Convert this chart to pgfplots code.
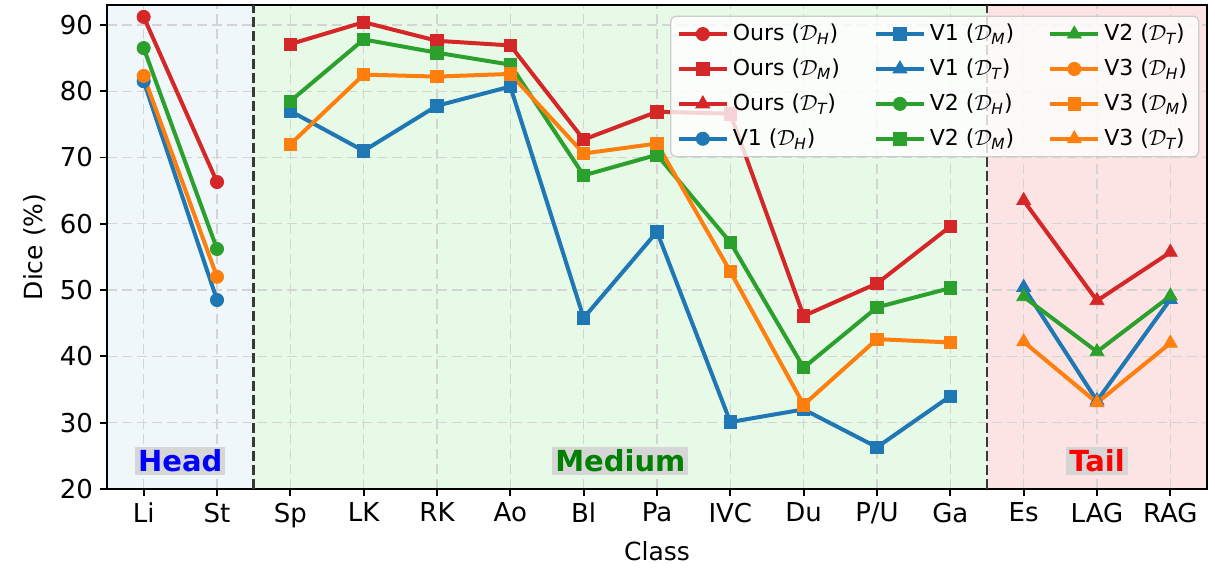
\documentclass[border=0pt]{standalone}
\usepackage{fontspec}
\setmainfont{DejaVu Sans}
\usepackage{amsmath}
\usepackage{pgfplots}
\pgfplotsset{compat=1.18}
\definecolor{tabred}{HTML}{D62728}
\definecolor{tabblue}{HTML}{1F77B4}
\definecolor{tabgreen}{HTML}{2CA02C}
\definecolor{taborange}{HTML}{FF7F0E}
\definecolor{headbg}{HTML}{EFF7FA}
\definecolor{medbg}{HTML}{E7F9E7}
\definecolor{tailbg}{HTML}{FCE4E4}
\definecolor{boxgray}{HTML}{D6D6D6}
\newcommand{\DS}[1]{$\mathcal{D}_{\text{\itshape #1}}$}
\pgfplotsset{
  ser/.style={line width=2pt, color=#1, mark options={solid, line width=0.4pt, fill=#1, draw=#1}},
  cm/.style={ser=#1, mark=*, mark size=3.3pt},
  sm/.style={ser=#1, mark=square*, mark size=3.1pt},
  tm/.style={ser=#1, mark=triangle*, mark size=4pt},
}
\begin{document}
\begin{tikzpicture}
\begin{axis}[name=ax, set layers, scale only axis, width=550pt, height=242pt,
  xmin=-0.5, xmax=14.5, ymin=20, ymax=93,
  xtick={0,...,14},
  xticklabels={Li,St,Sp,LK,RK,Ao,Bl,Pa,IVC,Du,P/U,Ga,Es,LAG,RAG},
  ytick={20,30,...,90},
  tick align=outside, tick pos=left, major tick length=3.5pt,
  every tick/.style={black, line width=0.9pt},
  axis line style={line width=1.1pt},
  xmajorgrids, ymajorgrids,
  major grid style={dash pattern=on 5pt off 2.5pt, line width=0.65pt, color=black!17},
  tick label style={font=\fontsize{13}{15}\selectfont},
  label style={font=\fontsize{12.5}{15}\selectfont},
  /pgf/number format/assume math mode=true,
  xlabel={Class}, ylabel={Dice (\%)},
  legend columns=3,
  legend cell align=left,
  legend style={at={(rel axis cs:0.993,0.978)}, anchor=north east,
    font=\fontsize{11}{13}\selectfont, draw=black!20, fill=white,
    fill opacity=0.8, draw opacity=1, text opacity=1,
    rounded corners=2.5pt, line width=0.6pt,
    /tikz/every even column/.append style={column sep=15pt},
    /tikz/row sep=3.6pt},
  legend image code/.code={\draw[mark repeat=2, mark phase=2, fill opacity=1, #1] plot coordinates {(0pt,0pt) (12pt,0pt) (24pt,0pt)};},
]
\begin{pgfonlayer}{axis background}
\fill[headbg] (axis cs:-0.5,20) rectangle (axis cs:1.5,93);
\fill[medbg] (axis cs:1.5,20) rectangle (axis cs:11.5,93);
\fill[tailbg] (axis cs:11.5,20) rectangle (axis cs:14.5,93);
\end{pgfonlayer}
\draw[dash pattern=on 5pt off 2pt, line width=1.25pt, color=black!78] (axis cs:1.5,20) -- (axis cs:1.5,93);
\draw[dash pattern=on 5pt off 2pt, line width=1.25pt, color=black!78] (axis cs:11.5,20) -- (axis cs:11.5,93);

% Ours
\addplot[cm=tabred, forget plot] coordinates {(0,91.2) (1,66.3)};
\addplot[sm=tabred, forget plot] coordinates {(2,87.1) (3,90.4) (4,87.6) (5,86.9) (6,72.7) (7,76.9) (8,76.6) (9,46.1) (10,51.0) (11,59.6)};
\addplot[tm=tabred, forget plot] coordinates {(12,63.5) (13,48.4) (14,55.7)};
% V1
\addplot[cm=tabblue, forget plot] coordinates {(0,81.5) (1,48.5)};
\addplot[sm=tabblue, forget plot] coordinates {(2,77.0) (3,71.0) (4,77.8) (5,80.7) (6,45.8) (7,58.8) (8,30.1) (9,32.0) (10,26.3) (11,34.0)};
\addplot[tm=tabblue, forget plot] coordinates {(12,50.4) (13,33.3) (14,48.6)};
% V2
\addplot[cm=tabgreen, forget plot] coordinates {(0,86.5) (1,56.2)};
\addplot[sm=tabgreen, forget plot] coordinates {(2,78.5) (3,87.8) (4,85.8) (5,84.0) (6,67.3) (7,70.4) (8,57.2) (9,38.3) (10,47.4) (11,50.3)};
\addplot[tm=tabgreen, forget plot] coordinates {(12,49.0) (13,40.7) (14,49.1)};
% V3
\addplot[cm=taborange, forget plot] coordinates {(0,82.3) (1,52.0)};
\addplot[sm=taborange, forget plot] coordinates {(2,72.0) (3,82.5) (4,82.2) (5,82.6) (6,70.6) (7,72.1) (8,52.8) (9,32.7) (10,42.6) (11,42.1)};
\addplot[tm=taborange, forget plot] coordinates {(12,42.2) (13,33.0) (14,42.0)};

\node[fill=boxgray, inner sep=1.5pt, text=blue, font=\fontsize{14.5}{16}\selectfont\bfseries] at (axis cs:0.5,24.2) {Head};
\node[fill=boxgray, inner sep=1.5pt, text={rgb,255:red,0;green,128;blue,0}, font=\fontsize{14.5}{16}\selectfont\bfseries] at (axis cs:6.5,24.2) {Medium};
\node[fill=boxgray, inner sep=1.5pt, text=red, font=\fontsize{14.5}{16}\selectfont\bfseries] at (axis cs:13,24.2) {Tail};

% legend (column-major order)
\addlegendimage{cm=tabred}\addlegendentry{Ours (\DS{H})}
\addlegendimage{sm=tabblue}\addlegendentry{V1 (\DS{M})}
\addlegendimage{tm=tabgreen}\addlegendentry{V2 (\DS{T})}
\addlegendimage{sm=tabred}\addlegendentry{Ours (\DS{M})}
\addlegendimage{tm=tabblue}\addlegendentry{V1 (\DS{T})}
\addlegendimage{cm=taborange}\addlegendentry{V3 (\DS{H})}
\addlegendimage{tm=tabred}\addlegendentry{Ours (\DS{T})}
\addlegendimage{cm=tabgreen}\addlegendentry{V2 (\DS{H})}
\addlegendimage{sm=taborange}\addlegendentry{V3 (\DS{M})}
\addlegendimage{cm=tabblue}\addlegendentry{V1 (\DS{H})}
\addlegendimage{sm=tabgreen}\addlegendentry{V2 (\DS{M})}
\addlegendimage{tm=taborange}\addlegendentry{V3 (\DS{T})}
\end{axis}
\pgfresetboundingbox
\path[use as bounding box] ([xshift=-53.5pt,yshift=-41.5pt]ax.south west) rectangle ([xshift=4pt,yshift=2.5pt]ax.north east);
\end{tikzpicture}
\end{document}
